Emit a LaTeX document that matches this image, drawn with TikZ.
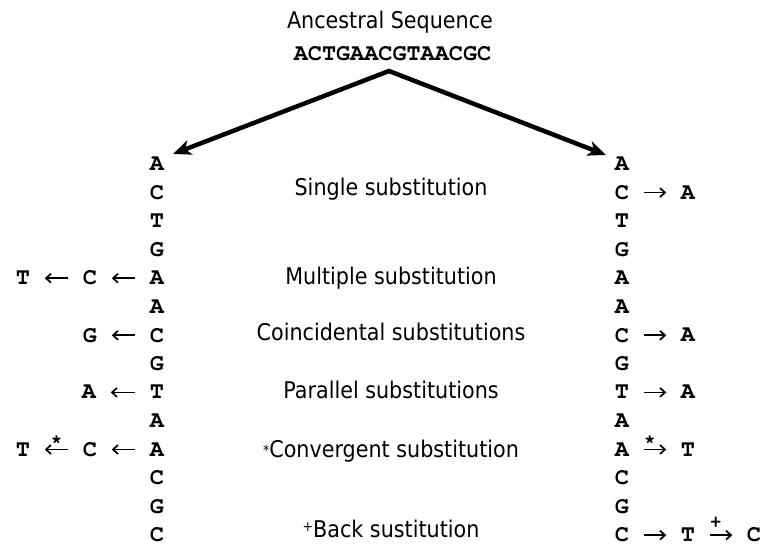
\documentclass[tikz,border=0pt]{standalone}
\usepackage[T1,TU]{fontenc}
\usepackage{fontspec}
\newfontfamily\labelfont{DejaVu Sans}[FakeStretch=0.9]
\usetikzlibrary{arrows.meta}
% bold Courier for the bases
\newcommand\basefont{\fontencoding{T1}\fontfamily{pcr}\fontseries{b}\fontsize{23.5}{23.5}\selectfont}
\newcommand\tagfont{\fontencoding{T1}\fontfamily{pcr}\fontseries{b}\fontsize{19}{19}\selectfont}
\newcommand\supmark[2]{\raisebox{#2}{\fontsize{14}{14}\selectfont #1}}
\begin{document}
\begin{tikzpicture}[x=1pt,y=-1pt,
  base/.style={font=\basefont, inner sep=0pt, anchor=center},
  lbl/.style={font=\labelfont\fontsize{23}{23}\selectfont, anchor=base, inner sep=0pt},
  big/.style={line width=4.5pt, line join=miter,
    {Stealth[length=18pt,width=15pt,inset=5pt]}-{Stealth[length=18pt,width=15pt,inset=5pt]}},
  sub/.style={line width=1.7pt, -{Straight Barb[length=5pt,width=9pt]},
    shorten <=14.5pt, shorten >=14.5pt},
  tag/.style={font=\tagfont, inner sep=0pt}]
\useasboundingbox (0,0) rectangle (765,546);
\fill[white] (0,0) rectangle (765,546);

% ancestral sequence
\node[lbl] (anctitle) at (390,28) {Ancestral Sequence};
\node[base, anchor=base] (seq) at (392.5,60) {ACTGAACGTAACGC};
\coordinate (apex) at (389,71);
\coordinate (tipL) at (173,154);
\coordinate (tipR) at (606,155);
\draw[big] (tipL) -- (apex) -- (tipR);

% the two descendant sequences
\foreach \c [count=\i from 0] in {A,C,T,G,A,A,C,G,T,A,A,C,G,C} {
  \node[base] (L\i) at (157,{164+28.55*\i}) {\c};
  \node[base] (R\i) at (622,{164+28.55*\i}) {\c};
}

% left lineage substitutions
\node[base] (L4b) at (90,{164+28.55*4}) {C};
\node[base] (L4c) at (23,{164+28.55*4}) {T};
\draw[sub] (L4) -- (L4b);
\draw[sub] (L4b) -- (L4c);
\node[base] (L6b) at (90,{164+28.55*6}) {G};
\draw[sub] (L6) -- (L6b);
\node[base] (L8b) at (89,{164+28.55*8}) {A};
\draw[sub] (L8) -- (L8b);
\node[base] (L10b) at (90,{164+28.55*10}) {C};
\node[base] (L10c) at (23,{164+28.55*10}) {T};
\draw[sub] (L10) -- (L10b);
\draw[sub] (L10b) -- node[tag, pos=0.5, yshift=9.5pt] (starL) {*} (L10c);

% right lineage substitutions
\node[base] (R1b) at (688,{164+28.55*1}) {A};
\draw[sub] (R1) -- (R1b);
\node[base] (R6b) at (688,{164+28.55*6}) {A};
\draw[sub] (R6) -- (R6b);
\node[base] (R8b) at (688,{164+28.55*8}) {A};
\draw[sub] (R8) -- (R8b);
\node[base] (R10b) at (688,{164+28.55*10}) {T};
\draw[sub] (R10) -- node[tag, pos=0.4, yshift=9.5pt] (starR) {*} (R10b);
\node[base] (R13b) at (688,{164+28.55*13}) {T};
\node[base] (R13c) at (754,{164+28.55*13}) {C};
\draw[sub] (R13) -- (R13b);
\draw[sub] (R13b) -- node[tag, pos=0.4, yshift=12pt] (plusR) {+} (R13c);

% substitution types
\node[lbl] (single) at (391,195) {Single substitution};
\node[lbl] (multiple) at (391,284) {Multiple substitution};
\node[lbl] (coinc) at (391,340) {Coincidental substitutions};
\node[lbl] (parallel) at (391,398) {Parallel substitutions};
\node[lbl] (converg) at (391,457) {\supmark{*}{2pt}Convergent substitution};
\node[lbl] (back) at (391,537) {\supmark{+}{6pt}Back sustitution};
\end{tikzpicture}
\end{document}
